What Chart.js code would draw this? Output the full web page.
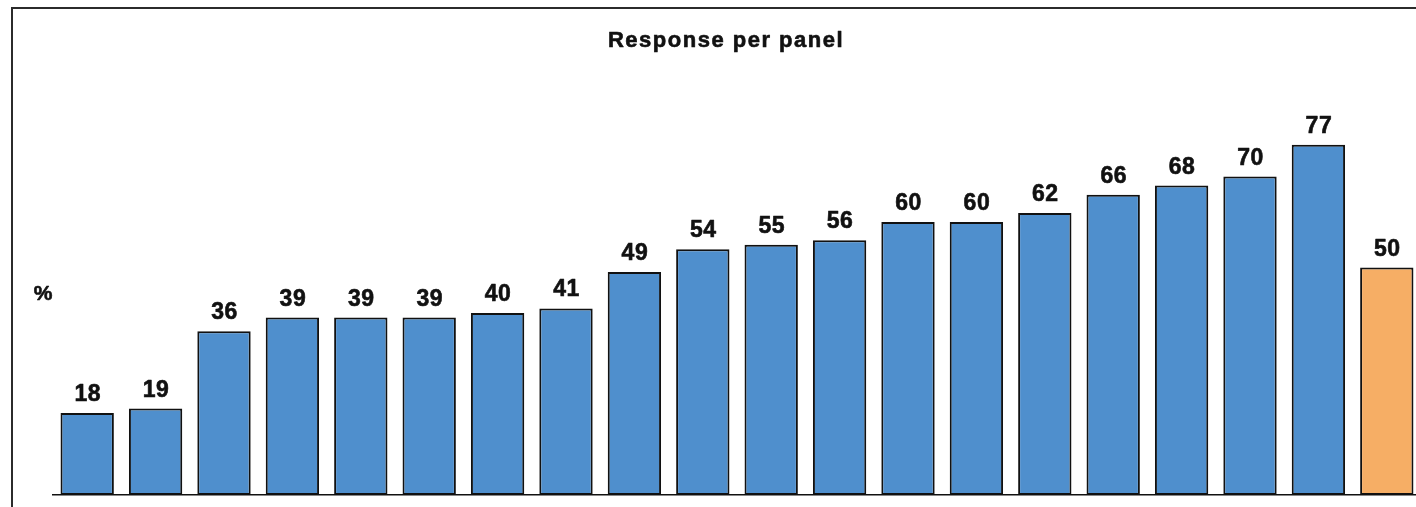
<!DOCTYPE html>
<html>
<head>
<meta charset="utf-8">
<script src="https://cdn.jsdelivr.net/npm/chart.js@4.4.1/dist/chart.umd.min.js"></script>
<style>
  html, body { margin: 0; padding: 0; background: #fff; overflow: hidden; }
  #wrap { position: relative; width: 1430px; height: 507px; }
  #frame {
    position: absolute; left: 11px; top: 7px;
    width: 1440px; height: 520px;
    border: 2px solid #2b2b2b; box-sizing: border-box;
  }
  canvas { position: absolute; left: 0; top: 0; }
</style>
</head>
<body>
<div id="wrap">
  <div id="frame"></div>
  <canvas id="myChart" width="1430" height="507"></canvas>
</div>
<script>
const panels = [
  "P1", "P2", "P3", "P4", "P5", "P6", "P7", "P8", "P9", "P10",
  "P11", "P12", "P13", "P14", "P15", "P16", "P17", "P18", "P19", "Total"
];
const responseRate = [18, 19, 36, 39, 39, 39, 40, 41, 49, 54, 55, 56, 60, 60, 62, 66, 68, 70, 77, 50];
const titleText = "Response per panel";
const unitLabel = "%";

const blue = "rgb(79,143,205)";
const orange = "rgb(246,174,101)";
// last bar is the overall figure, shown in orange
const barColors = responseRate.map((v, i) => i === responseRate.length - 1 ? orange : blue);

const ctx = document.getElementById("myChart").getContext("2d");

// bold text with a thin outline so it reads heavier
function heavyText(c, text, x, y) {
  c.strokeText(text, x, y);
  c.fillText(text, x, y);
}

const labelsPlugin = {
  id: "valueLabels",
  afterDatasetsDraw(chart) {
    const c = chart.ctx;
    const meta = chart.getDatasetMeta(0);
    c.save();
    c.fillStyle = "#111";
    c.strokeStyle = "#111";
    c.lineWidth = 0.6;
    c.lineJoin = "round";
    c.font = "bold 23px 'Liberation Sans', Arial, sans-serif";
    c.letterSpacing = "0.5px";
    c.textAlign = "center";
    c.textBaseline = "alphabetic";
    meta.data.forEach((bar, i) => {
      heavyText(c, String(responseRate[i]), bar.x + 0.5, bar.y - 12);
    });

    // chart title and unit label
    const area = chart.chartArea;
    c.font = "bold 22px 'Liberation Sans', Arial, sans-serif";
    c.letterSpacing = "1.5px";
    heavyText(c, titleText, 726, 47);
    c.letterSpacing = "0px";
    c.font = "bold 21px 'Liberation Sans', Arial, sans-serif";
    heavyText(c, unitLabel, area.left - 10, 300);
    c.restore();
  }
};

new Chart(ctx, {
  type: "bar",
  data: {
    labels: panels,
    datasets: [{
      label: "Response",
      data: responseRate,
      backgroundColor: barColors,
      borderColor: "#111",
      borderWidth: 2,
      borderSkipped: false,
      barPercentage: 0.78,
      categoryPercentage: 1.0
    }]
  },
  options: {
    responsive: false,
    animation: false,
    layout: { padding: { left: 53, right: 9, top: 40, bottom: 12 } },
    plugins: {
      legend: { display: false },
      title: { display: false },
      tooltip: { enabled: false }
    },
    scales: {
      x: {
        grid: { display: false, drawTicks: false },
        ticks: { display: false },
        border: { display: true, color: "#111", width: 1.5 }
      },
      y: {
        display: false,
        min: 0,
        max: 100
      }
    }
  },
  plugins: [labelsPlugin]
});
</script>
</body>
</html>
